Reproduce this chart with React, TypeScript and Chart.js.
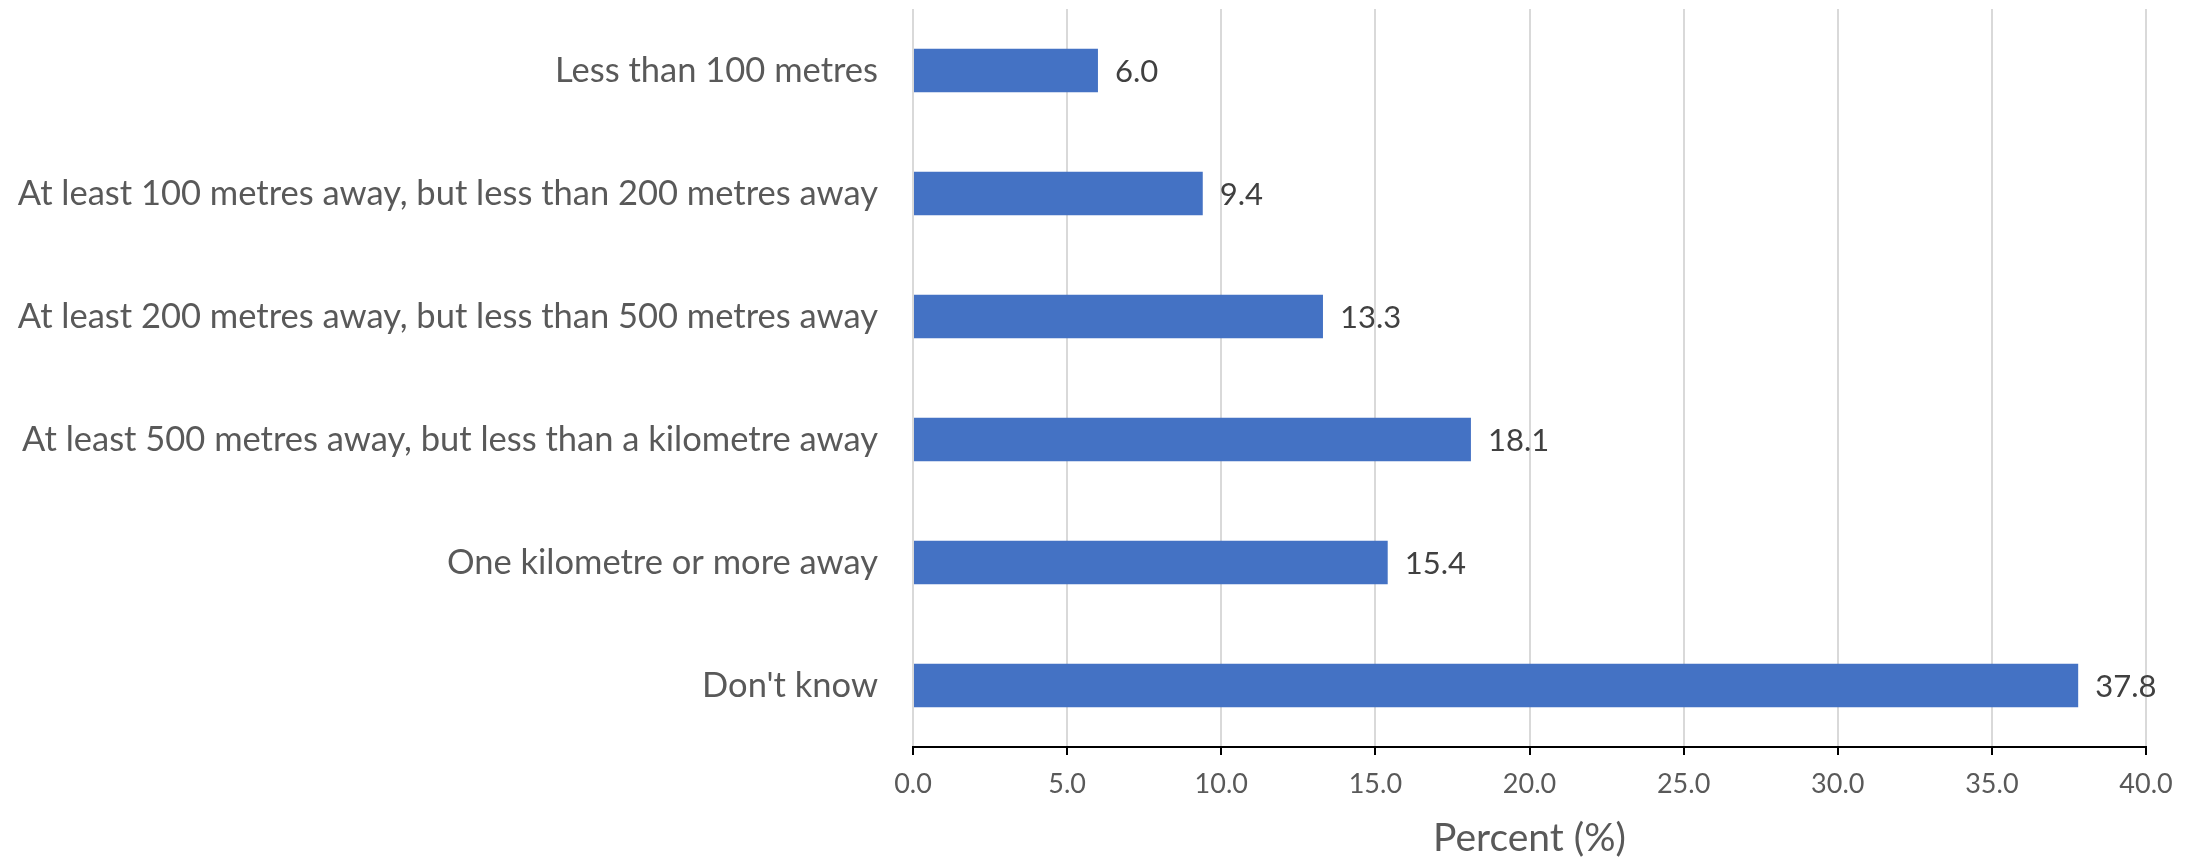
import React, { useEffect, useRef } from "react";
import { Chart, registerables } from "chart.js";

Chart.register(...registerables);

const categories = [
  "Less than 100 metres",
  "At least 100 metres away, but less than 200 metres away",
  "At least 200 metres away, but less than 500 metres away",
  "At least 500 metres away, but less than a kilometre away",
  "One kilometre or more away",
  "Don't know",
];
const percentValues = [6.0, 9.4, 13.3, 18.1, 15.4, 37.8];
const xMin = 0;
const xMax = 40;
const xStep = 5;
const xAxisTitle = "Percent (%)";

const FONT = "Lato, 'Open Sans', sans-serif";

const dataLabelPlugin = {
  id: "barValueLabels",
  afterDatasetsDraw(chart: any) {
    const ctx = chart.ctx;
    const meta = chart.getDatasetMeta(0);
    ctx.save();
    ctx.font = `31px ${FONT}`;
    ctx.fillStyle = "#404040";
    ctx.textAlign = "left";
    ctx.textBaseline = "middle";
    meta.data.forEach((bar: any, i: number) => {
      const v = chart.data.datasets[0].data[i] as number;
      ctx.fillText(v.toFixed(1), bar.x + 17, bar.y + 1);
    });
    ctx.restore();
  },
};

export default function App() {
  const ref = useRef<HTMLCanvasElement | null>(null);
  useEffect(() => {
    document.body.style.margin = "0";
    const canvas = ref.current!;
    const chart = new Chart(canvas, {
      type: "bar",
      data: {
        labels: categories,
        datasets: [
          {
            data: percentValues,
            backgroundColor: "#4472C4",
            borderWidth: 0,
            barPercentage: 0.353,
            categoryPercentage: 1,
          },
        ],
      },
      options: {
        indexAxis: "y",
        responsive: false,
        animation: false,
        devicePixelRatio: 1,
        layout: { padding: { left: 0, right: 55, top: 9, bottom: 0 } },
        plugins: {
          legend: { display: false },
          tooltip: { enabled: false },
          title: { display: false },
        },
        scales: {
          x: {
            type: "linear",
            position: "bottom",
            min: xMin,
            max: xMax,
            afterFit: (s: any) => {
              s.height = 111;
              s.paddingLeft = 0;
              s.paddingRight = 0;
            },
            ticks: {
              stepSize: xStep,
              color: "#595959",
              font: { family: FONT, size: 27 },
              padding: 13,
              callback: (v: any) => Number(v).toFixed(1),
            },
            grid: {
              color: "#d9d9d9",
              lineWidth: 2,
              drawTicks: true,
              tickLength: 8,
              tickColor: "#000000",
              tickWidth: 2,
            },
            border: { display: true, color: "#000000", width: 2 },
            title: {
              display: true,
              text: xAxisTitle,
              color: "#595959",
              font: { family: FONT, size: 39, lineHeight: 1.0 },
              padding: { top: 0, bottom: 0 },
            },
          },
          y: {
            type: "category",
            afterFit: (s: any) => {
              s.width = 913;
              s.paddingTop = 0;
              s.paddingBottom = 0;
            },
            ticks: {
              color: "#595959",
              font: { family: FONT, size: 34.5 },
              padding: 35,
            },
            grid: { display: false, drawTicks: false },
            border: { display: false },
          },
        },
      },
      plugins: [dataLabelPlugin],
    });
    return () => chart.destroy();
  }, []);
  return <canvas ref={ref} width={2201} height={858} style={{ display: "block" }} />;
}
